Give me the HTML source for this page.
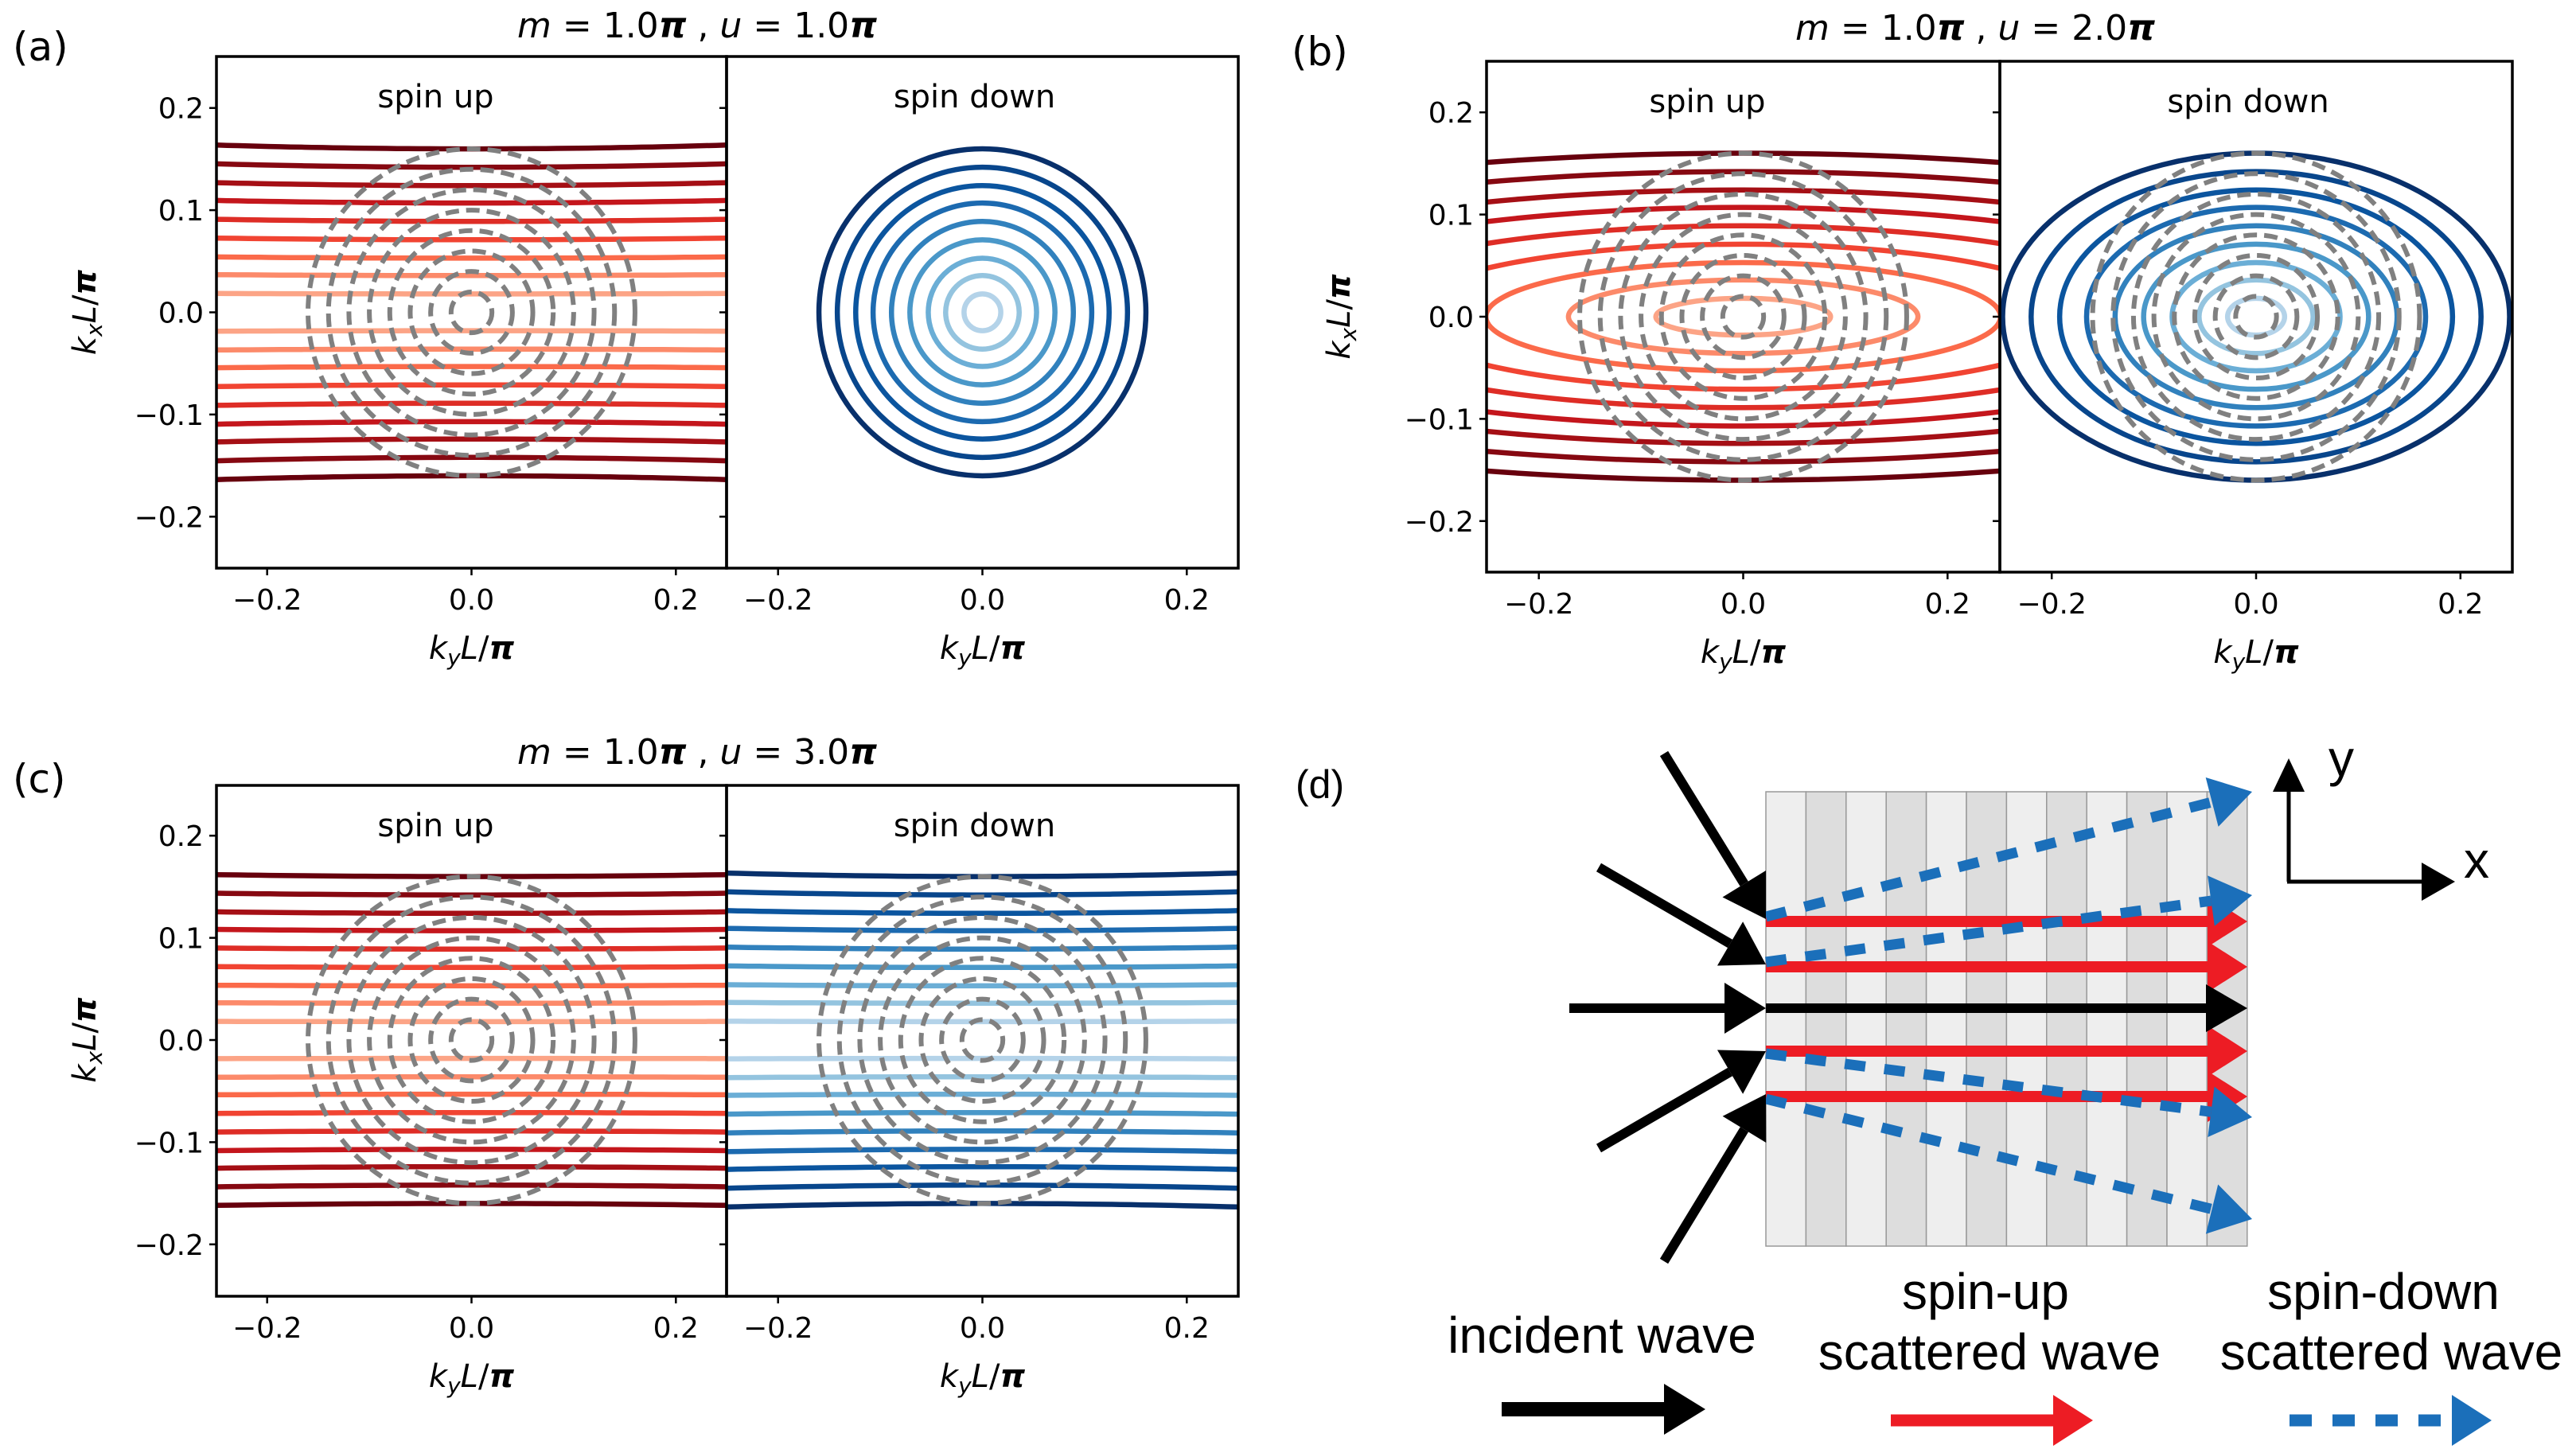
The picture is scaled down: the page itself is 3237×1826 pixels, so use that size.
<!DOCTYPE html>
<html><head><meta charset="utf-8"><style>
html,body{margin:0;padding:0;background:#fff;}
svg{display:block;}
.tk{font-family:"DejaVu Sans","Liberation Sans",sans-serif;font-size:36px;fill:#000;}
.tl{font-family:"DejaVu Sans","Liberation Sans",sans-serif;font-size:40px;fill:#000;}
.dl{font-family:"Liberation Sans",sans-serif;font-size:64px;fill:#000;}
</style></head><body>
<svg id="fig" width="3237" height="1826" viewBox="0 0 3237 1826" xmlns="http://www.w3.org/2000/svg">
<defs>
<clipPath id="clipA1"><rect x="272" y="71" width="641" height="643"/></clipPath>
<clipPath id="clipA2"><rect x="913" y="71" width="643" height="643"/></clipPath>
<clipPath id="clipB1"><rect x="1868" y="77" width="645" height="642"/></clipPath>
<clipPath id="clipB2"><rect x="2513" y="77" width="644" height="642"/></clipPath>
<clipPath id="clipC1"><rect x="272" y="987" width="641" height="642"/></clipPath>
<clipPath id="clipC2"><rect x="913" y="987" width="643" height="642"/></clipPath>
</defs>
<g id="plots"></g>
<g id="diagram"></g>
</svg>
<script>
// ---- chart data ----
const upLevels = [0.018, 0.036, 0.053, 0.071, 0.089, 0.107, 0.124, 0.142, 0.160];
const downLevels = [0.018, 0.036, 0.053, 0.071, 0.089, 0.107, 0.124, 0.142, 0.160];
const dashRadii = [0.02, 0.04, 0.06, 0.08, 0.10, 0.12, 0.14, 0.16];
const upShape = [-0.06, 0.0443, -0.03];   // ellipse anisotropy (>0) or line bow (<0) per panel a,b,c
const downShape = [1.0, 0.416, -0.055];
const showDashUp = [true, true, true];
const showDashDown = [false, true, true];
const panelTitles = ["1.0", "2.0", "3.0"];
const xTicks = [-0.2, 0.0, 0.2];
const yTicks = [-0.2, -0.1, 0.0, 0.1, 0.2];
const xTickLabels = ["\u22120.2", "0.0", "0.2"];
const yTickLabels = ["\u22120.2", "\u22120.1", "0.0", "0.1", "0.2"];
const redColors = ["#fca486", "#fc8a6a", "#fb6a4a", "#f14432", "#de2d26", "#c4161c", "#a50f15", "#860811", "#67000d"];
const blueColors = ["#b4d3e9", "#94c4df", "#6baed6", "#4a98c9", "#3181bd", "#1c6ab0", "#0b559f", "#08468c", "#08306b"];

const NS = "http://www.w3.org/2000/svg";
const SC = 1284;
function mk(tag, attrs, parent) {
  const e = document.createElementNS(NS, tag);
  for (const k in attrs) e.setAttribute(k, attrs[k]);
  if (parent) parent.appendChild(e);
  return e;
}
const panels = [
  {lab: "(a)", lx: 16, ly: 76, top: 71, bot: 714, cy: 392.5, L: 272, M: 913, R: 1556, tx: 876, ty: 47, ylx: 120},
  {lab: "(b)", lx: 1623, ly: 82, top: 77, bot: 719, cy: 398, L: 1868, M: 2513, R: 3157, tx: 2482, ty: 50, ylx: 1696},
  {lab: "(c)", lx: 16, ly: 996, top: 987, bot: 1629, cy: 1307, L: 272, M: 913, R: 1556, tx: 876, ty: 960, ylx: 120}
];
const clips = [["clipA1", "clipA2"], ["clipB1", "clipB2"], ["clipC1", "clipC2"]];
const plots = document.getElementById("plots");

function contour(g, cx, cy, a, s, color, frac) {
  if (s > 0) {
    const e = mk("ellipse", {cx: cx, cy: cy, rx: a / Math.sqrt(s) * SC, ry: a * SC, fill: "none", stroke: color, "stroke-width": 6.5}, g);
    
    
  } else {
    for (const sign of [1, -1]) {
      let d = "";
      for (let i = 0; i <= 50; i++) {
        const ky = -0.26 + 0.52 * i / 50;
        const kx = a - s * frac * ky * ky;
        d += (i ? "L" : "M") + (cx + ky * SC).toFixed(1) + " " + (cy - sign * kx * SC).toFixed(1);
      }
      const p = mk("path", {d: d, fill: "none", stroke: color, "stroke-width": 6.5}, g);
      
      
    }
  }
}

panels.forEach((p, pi) => {
  const g = mk("g", {}, plots);
  
  
  const subs = [{x0: p.L, x1: p.M, up: true}, {x0: p.M, x1: p.R, up: false}];
  subs.forEach((s, si) => {
    const cx = (s.x0 + s.x1) / 2;
    const sg = mk("g", {"clip-path": "url(#" + clips[pi][si] + ")"}, g);
    
    
    const lev = s.up ? upLevels : downLevels;
    const cols = s.up ? redColors : blueColors;
    const sh = s.up ? upShape[pi] : downShape[pi];
    lev.forEach((a, i) => contour(sg, cx, p.cy, a, sh, cols[i], a / lev[lev.length - 1]));
    if (s.up ? showDashUp[pi] : showDashDown[pi]) {
      dashRadii.forEach(r => {
        const c = mk("circle", {cx: cx, cy: p.cy, r: r * SC, fill: "none", stroke: "#808080", "stroke-width": 6, "stroke-dasharray": "17 9"}, sg);
        
        
      });
    }
    const fr = mk("rect", {x: s.x0, y: p.top, width: s.x1 - s.x0, height: p.bot - p.top, fill: "none", stroke: "#000", "stroke-width": 3.5}, g);
    
    
    xTicks.forEach((t, i) => {
      const x = cx + t * SC;
      const tl = mk("line", {x1: x, y1: p.bot, x2: x, y2: p.bot + 9, stroke: "#000", "stroke-width": 2.5}, g);
      
      
      const tt = mk("text", {x: x, y: p.bot + 52, "text-anchor": "middle", class: "tk"}, g);
      tt.textContent = xTickLabels[i];
      
      
    });
    yTicks.forEach((t, i) => {
      const y = p.cy - t * SC;
      const tl = mk("line", {x1: s.x0 - 9, y1: y, x2: s.x0, y2: y, stroke: "#000", "stroke-width": 2.5}, g);
      
      
      if (si === 0) {
        const tt = mk("text", {x: s.x0 - 16, y: y + 13, "text-anchor": "end", class: "tk"}, g);
        tt.textContent = yTickLabels[i];
        
        
      }
    });
    const st = mk("text", {x: cx - (s.up ? 45 : 10), y: p.top + 64, "text-anchor": "middle", class: "tl"}, g);
    st.textContent = s.up ? "spin up" : "spin down";
    
    
    const xl = mk("text", {x: cx, y: p.bot + 114, "text-anchor": "middle", class: "tl"}, g);
    xl.innerHTML = '<tspan font-style="italic">k</tspan><tspan font-style="italic" font-size="28" dy="8">y</tspan><tspan font-style="italic" dy="-8">L</tspan>/<tspan font-weight="bold" font-style="italic">π</tspan>';
    
    
  });
  const yl = mk("text", {x: 0, y: 0, "text-anchor": "middle", class: "tl", transform: "translate(" + p.ylx + "," + p.cy + ") rotate(-90)"}, g);
  yl.innerHTML = '<tspan font-style="italic">k</tspan><tspan font-style="italic" font-size="28" dy="8">x</tspan><tspan font-style="italic" dy="-8">L</tspan>/<tspan font-weight="bold" font-style="italic">π</tspan>';
  
  
  const ti = mk("text", {x: p.tx, y: p.ty, "text-anchor": "middle", class: "tl"}, g);
  ti.setAttribute("style", "font-size:44px");
  ti.innerHTML = '<tspan font-style="italic">m</tspan> = 1.0<tspan font-weight="bold" font-style="italic">π</tspan>  , <tspan font-style="italic">u</tspan> = ' + panelTitles[pi] + '<tspan font-weight="bold" font-style="italic">π</tspan>';
  ti.setAttribute('xml:space', 'preserve');
  
  
  const pl = mk("text", {x: p.lx, y: p.ly, class: "tl"}, g);
  pl.setAttribute("style", "font-size:50px");
  pl.textContent = p.lab;
  
  
});

// ---- diagram (d) ----
const dg = document.getElementById("diagram");
function arrow(x1, y1, x2, y2, w, hl, hw, color, dash, name) {
  const g = mk("g", {}, dg);
  
  
  const dx = x2 - x1, dy = y2 - y1, L = Math.hypot(dx, dy), ux = dx / L, uy = dy / L;
  const bx = x2 - ux * hl, by = y2 - uy * hl;
  const ln = {x1: x1, y1: y1, x2: bx, y2: by, stroke: color, "stroke-width": w};
  if (dash) ln["stroke-dasharray"] = dash;
  mk("line", ln, g);
  mk("polygon", {points: x2 + "," + y2 + " " + (bx - uy * hw) + "," + (by + ux * hw) + " " + (bx + uy * hw) + "," + (by - ux * hw), fill: color}, g);
}
for (let i = 0; i < 12; i++) {
  const r = mk("rect", {x: 2219 + i * 50.4, y: 995, width: 50.4, height: 571, fill: i % 2 ? "#dddddd" : "#eeeeee", stroke: "#999", "stroke-width": 1.5}, dg);
  
  
}
[1158, 1215, 1321, 1378].forEach(y => arrow(2219, y, 2824, y, 14, 50, 32, "#ed1c24", null, "spin-up-scattered-arrow"));
arrow(2219, 1267, 2824, 1267, 12, 52, 30, "#000", null, "transmitted-arrow");
[[1152, 995], [1209, 1125], [1324, 1404], [1381, 1532]].forEach(a => arrow(2219, a[0], 2830, a[1], 13, 52, 32, "#1b6fba", "26 24", "spin-down-scattered-arrow"));
[[2091, 947, 1155], [2009, 1090, 1212], [1972, 1267, 1267], [2009, 1443, 1321], [2091, 1585, 1375]].forEach(a => arrow(a[0], a[1], 2219, a[2], 12, 52, 32, "#000", null, "incident-arrow"));
arrow(2876, 1108, 2876, 953, 5, 42, 20, "#000", null, "y-axis-arrow");
arrow(2874, 1108, 3085, 1108, 5, 42, 24, "#000", null, "x-axis-arrow");
const dtexts = [["(d)", 1628, 1003, "start", 50, "panel-label"], ["y", 2942, 975, "middle", 64, "y-axis-label"], ["x", 3112, 1103, "middle", 64, "x-axis-label"],
  ["incident wave", 2013, 1700, "middle", 64, "legend-incident"], ["spin-up", 2495, 1645, "middle", 64, "legend-spin-up"], ["scattered wave", 2500, 1721, "middle", 64, "legend-spin-up-2"],
  ["spin-down", 2995, 1645, "middle", 64, "legend-spin-down"], ["scattered wave", 3005, 1721, "middle", 64, "legend-spin-down-2"]];
dtexts.forEach(t => {
  const e = mk("text", {x: t[1], y: t[2], "text-anchor": t[3], class: "dl"}, dg);
  e.setAttribute("style", "font-size:" + t[4] + "px");
  e.textContent = t[0];
  
  
});
arrow(1887, 1771, 2143, 1771, 18, 52, 32, "#000", null, "legend-black-arrow");
arrow(2376, 1785, 2630, 1785, 15, 50, 32, "#ed1c24", null, "legend-red-arrow");
arrow(2877, 1785, 3131, 1785, 15, 50, 32, "#1b6fba", "28 26", "legend-blue-arrow");
</script>
</body></html>
